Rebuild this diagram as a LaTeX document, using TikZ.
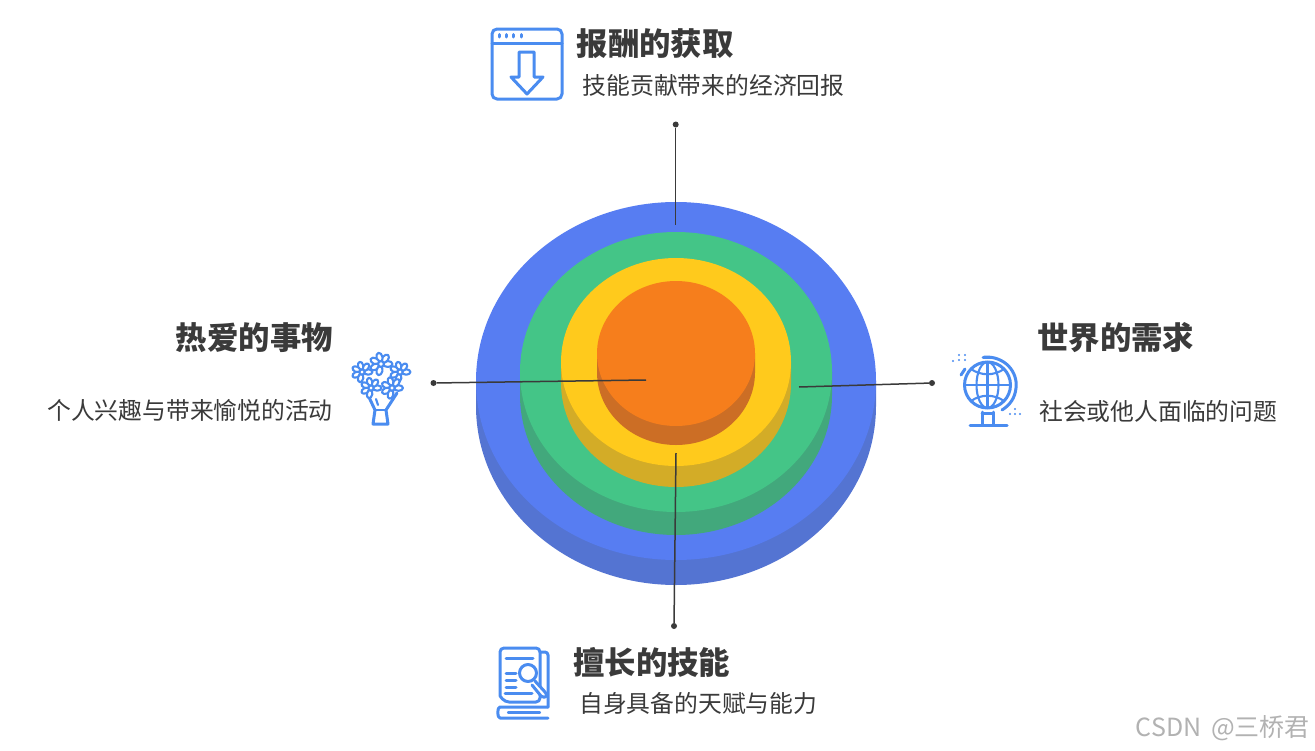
\documentclass[tikz,border=0pt]{standalone}
\usepackage{fontspec}
\setmainfont{Liberation Sans}
\newfontfamily\cjk{Noto Sans CJK SC}
\definecolor{dk}{HTML}{3A3A3A}
\definecolor{ic}{HTML}{4A8CF0}
\definecolor{blueT}{HTML}{577DF2}
\definecolor{blueS}{HTML}{5474D2}
\definecolor{greenT}{HTML}{44C587}
\definecolor{greenS}{HTML}{42A87C}
\definecolor{yelT}{HTML}{FFCA1C}
\definecolor{yelS}{HTML}{D3AC27}
\definecolor{orT}{HTML}{F67E1C}
\definecolor{orS}{HTML}{CC6E25}
\tikzset{
 titletext/.style={font=\cjk\bfseries\fontsize{31.4}{34}\selectfont,text=dk,inner sep=0pt,anchor=west},
 bodytext/.style={font=\cjk\fontsize{23.8}{28}\selectfont,text=dk,inner sep=0pt,anchor=west},
 leader/.style={draw=dk,line width=1.5pt},
 enddot/.style={circle,fill=dk,inner sep=0pt,minimum size=6pt},
 iconline/.style={draw=ic,line width=3pt,line cap=round,line join=round},
 iconthin/.style={draw=ic,line width=2.1pt,line cap=round,line join=round},
}
\newcommand{\disc}[7]{% cx cy rx ry offset top side
 \fill[#7] (#1-#3,#2) -- (#1-#3,#2+#5) arc[start angle=180,end angle=360,x radius=#3,y radius=-#4] -- (#1+#3,#2) -- cycle;
 \fill[#6] (#1,#2) ellipse[x radius=#3,y radius=#4];
}
\newcommand{\flower}[3]{% x y r
 \foreach \a in {0,51.4,...,308}{
  \draw[iconthin,fill=white,rotate around={\a:(#1,#2)}] (#1+#3*0.62,#2) ellipse[x radius=#3*0.42,y radius=#3*0.27];
 }
 \draw[iconthin,fill=white] (#1,#2) circle[radius=#3*0.26];
}
\begin{document}
\begin{tikzpicture}[x=1pt,y=-1pt]
\useasboundingbox (0,0) rectangle (1315,750);
\fill[white] (0,0) rectangle (1315,750);
% stacked discs
\disc{676}{381}{200}{179}{25}{blueT}{blueS}
\disc{676}{372}{156}{140}{23}{greenT}{greenS}
\disc{676}{362}{115}{104}{21}{yelT}{yelS}
\disc{676}{353.5}{79}{72.5}{19}{orT}{orS}
% leaders
\node[enddot] (topdot) at (675.7,124.5) {};
\coordinate (topend) at (675.7,225);
\node[enddot] (leftdot) at (433.5,383) {};
\coordinate (leftend) at (646,380);
\node[enddot] (rightdot) at (932,383) {};
\coordinate (rightend) at (799,387);
\node[enddot] (botdot) at (674,626) {};
\coordinate (botend) at (676,453);
\draw[leader] (topdot) -- (topend);
\draw[leader] (leftdot) -- (leftend);
\draw[leader] (rightdot) -- (rightend);
\draw[leader] (botdot) -- (botend);
% texts
\node[titletext] (t1) at (576.5,44) {报酬的获取};
\node[bodytext] (b1) at (582.5,85) {技能贡献带来的经济回报};
\node[titletext,anchor=east] (t2) at (333,338) {热爱的事物};
\node[bodytext,anchor=east] (b2) at (333,410) {个人兴趣与带来愉悦的活动};
\node[titletext] (t3) at (1037,338) {世界的需求};
\node[bodytext] (b3) at (1039,411) {社会或他人面临的问题};
\node[titletext] (t4) at (573,662) {擅长的技能};
\node[bodytext] (b4) at (579,703) {自身具备的天赋与能力};
\node[font=\cjk\fontsize{25}{28}\selectfont,text=black!30,inner sep=0pt,anchor=east] (wm) at (1310,728) {CSDN \,@三桥君};
% download icon
\draw[iconline,rounded corners=5pt] (492,29) rectangle (562,99);
\draw[iconline] (492,43) -- (562,43);
\foreach \x in {499,506,513,521}{\draw[draw=ic,line width=3pt,line cap=round] (\x,34.5) -- (\x,37);}
\draw[iconline] (519,52) -- (534,52) -- (534,77) -- (543,77) -- (527,94) -- (511,77) -- (519,77) -- cycle;
% bouquet icon
\draw[iconline,fill=white] (367,393) -- (375,410) -- (373,424) -- (388,424) -- (386,410) -- (397,393);
\draw[iconthin] (375,410) -- (386,410);
\draw[iconthin] (376,399) -- (378,405);
\flower{362}{372}{10}
\flower{400}{372}{10}
\flower{371}{388}{10}
\flower{392}{388}{10.5}
\flower{381}{364}{11}
% globe icon
\draw[iconline] (987.5,385) circle[radius=23];
\draw[iconthin] (987.5,362) -- (987.5,408);
\draw[iconthin] (964.5,385) -- (1010.5,385);
\draw[iconthin] (987.5,385) ellipse[x radius=11,y radius=23];
\draw[iconthin] (971,369) .. controls (981,376) and (994,376) .. (1004,369);
\draw[iconthin] (971,401) .. controls (981,394) and (994,394) .. (1004,401);
\draw[iconline] (984,357) .. controls (1005,356) and (1018,372) .. (1016,388) .. controls (1015,398) and (1010,405) .. (1002,410);
\draw[iconline] (983,357) -- (992,357);
\draw[iconline] (982,412) -- (982,424);
\draw[iconline] (993,412) -- (993,424);
\draw[iconline] (982,413) -- (993,413);
\draw[iconline] (970,425) -- (1007,425);
\draw[iconline] (961,375) -- (965,369);
\foreach \p in {(953,361),(959,360),(965,360),(959,355),(965,355)}{\fill[ic] \p circle[radius=1.2];}
\foreach \p in {(1015,409),(1010,414),(1015,414),(1020,414)}{\fill[ic] \p circle[radius=1.2];}
% book icon
\draw[iconline,rounded corners=4pt] (500,696) -- (500,648) -- (540,648) -- (540,702) -- (505,702) -- (500,696);
\draw[iconline,rounded corners=3pt] (540,652) -- (548,652) -- (548,707);
\draw[iconline] (505,693) -- (532,693);
\draw[iconline,rounded corners=5pt] (548,718) -- (505,718) .. controls (497,718) and (497,707) .. (505,707) -- (548,707);
\draw[iconline] (506,658) -- (533,658);
\draw[iconline] (506,673) -- (516,673);
\draw[iconline] (506,680) -- (516,680);
\draw[iconline] (506,687) -- (516,687);
\draw[iconthin] (508,712.5) -- (540,712.5);
\draw[iconline,fill=white] (528,673) circle[radius=8.5];
\draw[iconline,fill=white] (535,681) -- (545,692) .. controls (549,696) and (545,699) .. (541,696) -- (532,685);
\end{tikzpicture}
\end{document}
